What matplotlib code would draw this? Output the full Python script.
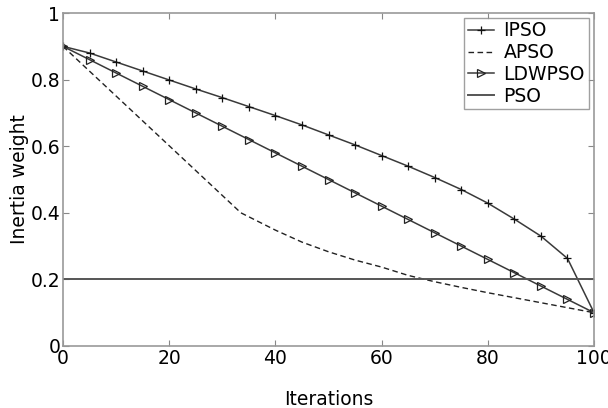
import matplotlib
matplotlib.use("Agg")
import matplotlib.pyplot as plt

plt.rcParams['font.family'] = ['DejaVu Sans']

iters = [0, 5, 10, 15, 20, 25, 30, 35, 40, 45, 50, 55, 60, 65, 70, 75, 80, 85, 90, 95, 100]
ipso = [0.90, 0.88, 0.853, 0.826, 0.799, 0.772, 0.746, 0.719, 0.692, 0.664, 0.634,
        0.604, 0.572, 0.540, 0.506, 0.470, 0.429, 0.381, 0.330, 0.263, 0.10]
ldwpso = [0.90, 0.86, 0.82, 0.78, 0.74, 0.70, 0.66, 0.62, 0.58, 0.54, 0.50,
          0.46, 0.42, 0.38, 0.34, 0.30, 0.26, 0.22, 0.18, 0.14, 0.10]
apso_x = [0, 33.5, 40, 45, 50, 55, 60, 65, 70, 75, 80, 85, 90, 95, 100]
apso = [0.90, 0.40, 0.348, 0.312, 0.283, 0.258, 0.237, 0.212, 0.193, 0.176, 0.160,
        0.145, 0.130, 0.115, 0.10]
pso_x = [0, 100]
pso = [0.2, 0.2]

fig = plt.figure(figsize=(6.08, 4.08), dpi=100)
ax = fig.add_axes([0.1036, 0.152, 0.8734, 0.816])

lc = '#3a3a3a'
ax.plot(iters, ipso, color=lc, lw=1.1, marker='+', markersize=6, markeredgecolor='#111',
        markeredgewidth=0.9, label='IPSO')
ax.plot(apso_x, apso, color='#222', lw=1.0, ls=(0, (4, 2.5)), label='APSO')
ax.plot(iters, ldwpso, color=lc, lw=1.1, marker='>', markersize=5.5, markerfacecolor='none',
        markeredgecolor='#222', markeredgewidth=0.9, label='LDWPSO')
ax.plot(pso_x, pso, color='#555', lw=1.4, label='PSO')

ax.set_xlim(0, 100)
ax.set_ylim(0, 1)
ax.set_xticks([0, 20, 40, 60, 80, 100])
ax.set_yticks([0, 0.2, 0.4, 0.6, 0.8, 1])
ax.set_yticklabels(['0', '0.2', '0.4', '0.6', '0.8', '1'])
ax.tick_params(direction='in', length=4, width=0.8, color='#888', labelsize=13.5,
               top=True, right=True, pad=2)
for s in ax.spines.values():
    s.set_color('#999')
    s.set_linewidth(1.2)

ax.set_xlabel('Iterations', fontsize=13.5, labelpad=16)
ax.set_ylabel('Inertia weight', fontsize=13.5, labelpad=1)

leg = ax.legend(loc='upper right', fontsize=13.5, frameon=True, fancybox=False,
                handlelength=1.4, handletextpad=0.5, borderpad=0.2, labelspacing=0.15,
                borderaxespad=0.15, bbox_to_anchor=(0.995, 0.995))
leg.get_frame().set_edgecolor('#888')
leg.get_frame().set_linewidth(1.0)

fig.savefig('out.png', dpi=100)
